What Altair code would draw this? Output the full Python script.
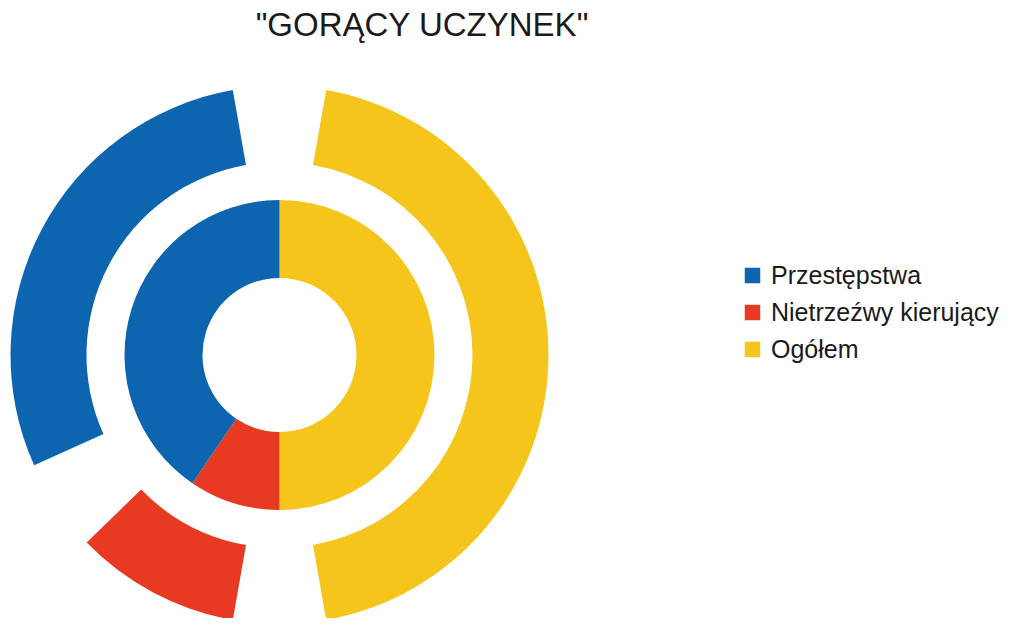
import math
import altair as alt
import pandas as pd

# ---- data ----
categories = ["Przestępstwa", "Nietrzeźwy kierujący", "Ogółem"]
inner_values = [40.5, 9.5, 50.0]   # inner ring
outer_values = [34.5, 15.5, 50.0]  # outer ring
colors = ["#0d65b0", "#e83a22", "#f6c51c"]
draw_order = ["Ogółem", "Nietrzeźwy kierujący", "Przestępstwa"]  # clockwise from 12 o'clock

TITLE = '"GORĄCY UCZYNEK"'
FONT = "Liberation Sans"


def ring_frame(values, gap_deg):
    total = sum(values)
    gap = total * gap_deg / 360.0
    rows = []
    cum = 0.0
    for name in draw_order:
        v = values[categories.index(name)]
        rows.append({"kategoria": name, "wartosc": v,
                     "start": cum + gap / 2, "end": cum + v - gap / 2,
                     "total": total})
        cum += v
    return pd.DataFrame(rows), total


inner_df, inner_total = ring_frame(inner_values, 0.0)
outer_df, outer_total = ring_frame(outer_values, 20.0)

color_scale = alt.Scale(domain=categories, range=colors)

PAD_TOP = 45
W, H = 995, 565
CX, CY = 279.5, 355  # ring centre on the page


def ring(df, total, r0, r1, legend):
    return alt.Chart(df).mark_arc(innerRadius=r0, outerRadius=r1, stroke=None).encode(
        theta=alt.Theta("start:Q", stack=None,
                        scale=alt.Scale(domain=[0, total], range=[0, 2 * math.pi])),
        theta2="end:Q",
        color=alt.Color("kategoria:N", scale=color_scale, legend=legend),
        x=alt.value(CX - 8),
        y=alt.value(CY - 8 - PAD_TOP),
        tooltip=["kategoria:N", "wartosc:Q"],
    )


legend = alt.Legend(
    title=None, orient="none", legendX=732, legendY=267 - 8 - PAD_TOP - 4,
    symbolType="square", symbolSize=240, symbolStrokeWidth=0,
    labelFont=FONT, labelFontSize=25, labelColor="#1a1a1a",
    labelOffset=6, rowPadding=11, labelLimit=400,
)

outer = ring(outer_df, outer_total, 193, 269, legend)
inner = ring(inner_df, inner_total, 77, 155, None)

chart = alt.layer(outer, inner).properties(
    width=W, height=H,
    title=alt.TitleParams(TITLE, font=FONT, fontSize=33, fontWeight="normal",
                          color="#1a1a1a", anchor="middle", dx=422 - 8 - W / 2,
                          offset=10),
    autosize=alt.AutoSizeParams(type="none"),
    padding={"top": PAD_TOP, "left": 0, "right": 0, "bottom": 0},
    background="white",
).configure_view(stroke=None)

chart.save("out.html", embed_options={"renderer": "svg", "actions": False})
